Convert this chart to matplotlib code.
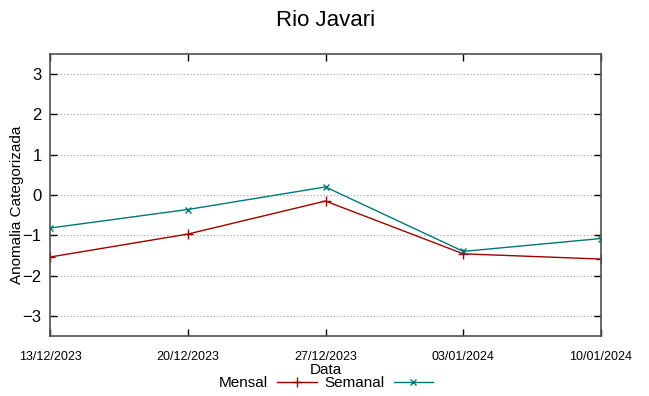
import numpy as np
import matplotlib
matplotlib.use('Agg')
import matplotlib.pyplot as plt
import matplotlib.dates as mdates
from datetime import datetime

plt.rcParams['font.family'] = ['Liberation Sans', 'DejaVu Sans']

judul = 'Rio Javari'
sumbuX = 'Data'
sumbuY = 'Anomalia Categorizada'

tanggal = ['13/12/2023', '20/12/2023', '27/12/2023', '03/01/2024', '10/01/2024']
mensal = [-1.54, -0.97, -0.15, -1.46, -1.59]
semanal = [-0.82, -0.36, 0.20, -1.40, -1.08]
ticksY = [-3, -2, -1, 0, 1, 2, 3]

x = [datetime.strptime(t, '%d/%m/%Y') for t in tanggal]

fig = plt.figure(figsize=(6.49, 3.96), dpi=100)
ax = fig.add_axes([50/649, 60/396, 551/649, 282/396])

ax.plot(x, mensal, color='#a00000', lw=1, marker='+', ms=7, mew=1, label='Mensal')
ax.plot(x, semanal, color='#007878', lw=1, marker='x', ms=5, mew=1, label='Semanal')

ax.set_xlim(x[0], x[-1])
ax.set_ylim(-3.5, 3.5)
ax.set_xticks(x)
ax.xaxis.set_major_formatter(mdates.DateFormatter('%d/%m/%Y'))
ax.set_yticks(ticksY)
ax.grid(axis='y', ls=(0, (1, 2)), color='#a0a0a0', lw=0.8)

ax.tick_params(axis='both', direction='in', top=True, right=True, length=5, width=1)
ax.tick_params(axis='x', labelsize=9, pad=11)
ax.tick_params(axis='y', labelsize=12, pad=6)
for s in ax.spines.values():
    s.set_color('#505050')
    s.set_linewidth(1.2)

ax.set_title(judul, fontsize=16, pad=20)
ax.set_ylabel(sumbuY, fontsize=11)
ax.yaxis.set_label_coords(-0.047, 0.465)
ax.set_xlabel(sumbuX, fontsize=11, labelpad=0)

fig.legend(loc='center', bbox_to_anchor=(326/649, 1 - 383/396), ncol=2, frameon=False,
           markerfirst=False, fontsize=11, handlelength=2.6, columnspacing=0.5,
           handletextpad=0.6, borderpad=0)

fig.savefig('out.png', dpi=100)
